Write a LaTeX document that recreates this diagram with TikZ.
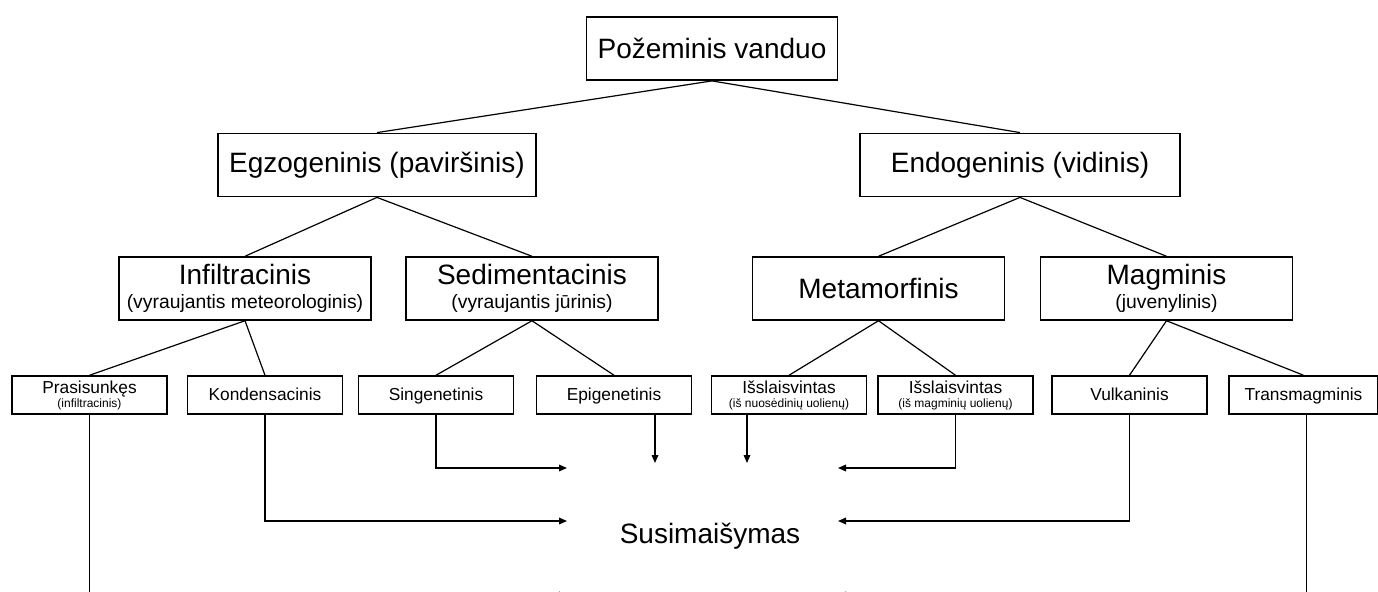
\documentclass[tikz,border=0pt]{standalone}
\usepackage{fontspec}
\setmainfont{Liberation Sans}
\usetikzlibrary{positioning,arrows.meta}

\begin{document}
\begin{tikzpicture}[x=0.75pt,y=-0.75pt,
        box/.style={draw,line width=1.1pt,inner sep=0pt,align=center},
        topbox/.style={box,minimum height=47.5pt,font=\fontsize{21}{24}\selectfont},
        midbox/.style={box,minimum width=189pt,minimum height=47.25pt,font=\fontsize{21}{18.5}\selectfont},
        lowbox/.style={box,minimum width=116.25pt,minimum height=28.5pt,font=\fontsize{13}{10.5}\selectfont},
        lowone/.style={lowbox,text height=10.4pt,text depth=2.4pt},
        link/.style={line width=0.9pt},
        arr/.style={line width=0.9pt,-{Triangle[length=6pt,width=5pt]}}]
        \useasboundingbox (0,0) rectangle (1378,592);
        % levels of the tree
        \node[topbox,minimum width=188.25pt] (root) at (712,48.5) {Požeminis vanduo};
        \node[topbox,minimum width=238.5pt] (egzo) at (377,165) {Egzogeninis (paviršinis)};
        \node[topbox,minimum width=240pt] (endo) at (1020,165) {Endogeninis (vidinis)};
        \node[midbox] (infil) at (245,288.5) {Infiltracinis\\{\fontsize{14.5}{16}\selectfont (vyraujantis meteorologinis)}};
        \node[midbox] (sedim) at (532,288.5) {Sedimentacinis\\{\fontsize{14.5}{16}\selectfont (vyraujantis jūrinis)}};
        \node[midbox] (metam) at (878.5,288.5) {Metamorfinis};
        \node[midbox] (magm) at (1166.5,288.5) {Magminis\\{\fontsize{14.5}{16}\selectfont (juvenylinis)}};
        \node[lowbox] (pras) at (89.5,395) {Prasisunkęs\\{\fontsize{9}{10}\selectfont (infiltracinis)}};
        \node[lowone] (kond) at (265,395) {Kondensacinis};
        \node[lowone] (sing) at (436,395) {Singenetinis};
        \node[lowone] (epig) at (614,395) {Epigenetinis};
        \node[lowbox] (isl1) at (789,395) {Išslaisvintas\\{\fontsize{9}{10}\selectfont (iš nuosėdinių uolienų)}};
        \node[lowbox] (isl2) at (955.5,395) {Išslaisvintas\\{\fontsize{9}{10}\selectfont (iš magminių uolienų)}};
        \node[lowone] (vulk) at (1129.5,395) {Vulkaninis};
        \node[lowone,minimum width=111.75pt] (trans) at (1303.5,395) {Transmagminis};
        \node[font=\fontsize{21}{24}\selectfont] (mix) at (710,536) {Susimaišymas};
        % tree links
        \foreach \a/\b in {root/egzo,root/endo,egzo/infil,egzo/sedim,endo/metam,endo/magm,
                infil/pras,infil/kond,sedim/sing,sedim/epig,metam/isl1,metam/isl2,magm/vulk,magm/trans} {
            \draw[link] (\a.south) -- (\b.north);
        }
        % arrow ends round the mixing label
        \coordinate (inL1) at (567,468);
        \coordinate (inL2) at (567,521);
        \coordinate (inL3) at (567,595);
        \coordinate (inR1) at (838,468);
        \coordinate (inR2) at (838,521);
        \coordinate (inR3) at (838,595);
        \coordinate (dnA) at (655,463);
        \coordinate (dnB) at (747,463);
        \draw[arr] (pras.south) |- (inL3);
        \draw[arr] (kond.south) |- (inL2);
        \draw[arr] (sing.south) |- (inL1);
        \draw[arr] (epig.south -| dnA) -- (dnA);
        \draw[arr] (isl1.south -| dnB) -- (dnB);
        \draw[arr] (isl2.south) |- (inR1);
        \draw[arr] (vulk.south) |- (inR2);
        \draw[arr] ([xshift=2.5pt]trans.south) |- (inR3);
\end{tikzpicture}
\end{document}
